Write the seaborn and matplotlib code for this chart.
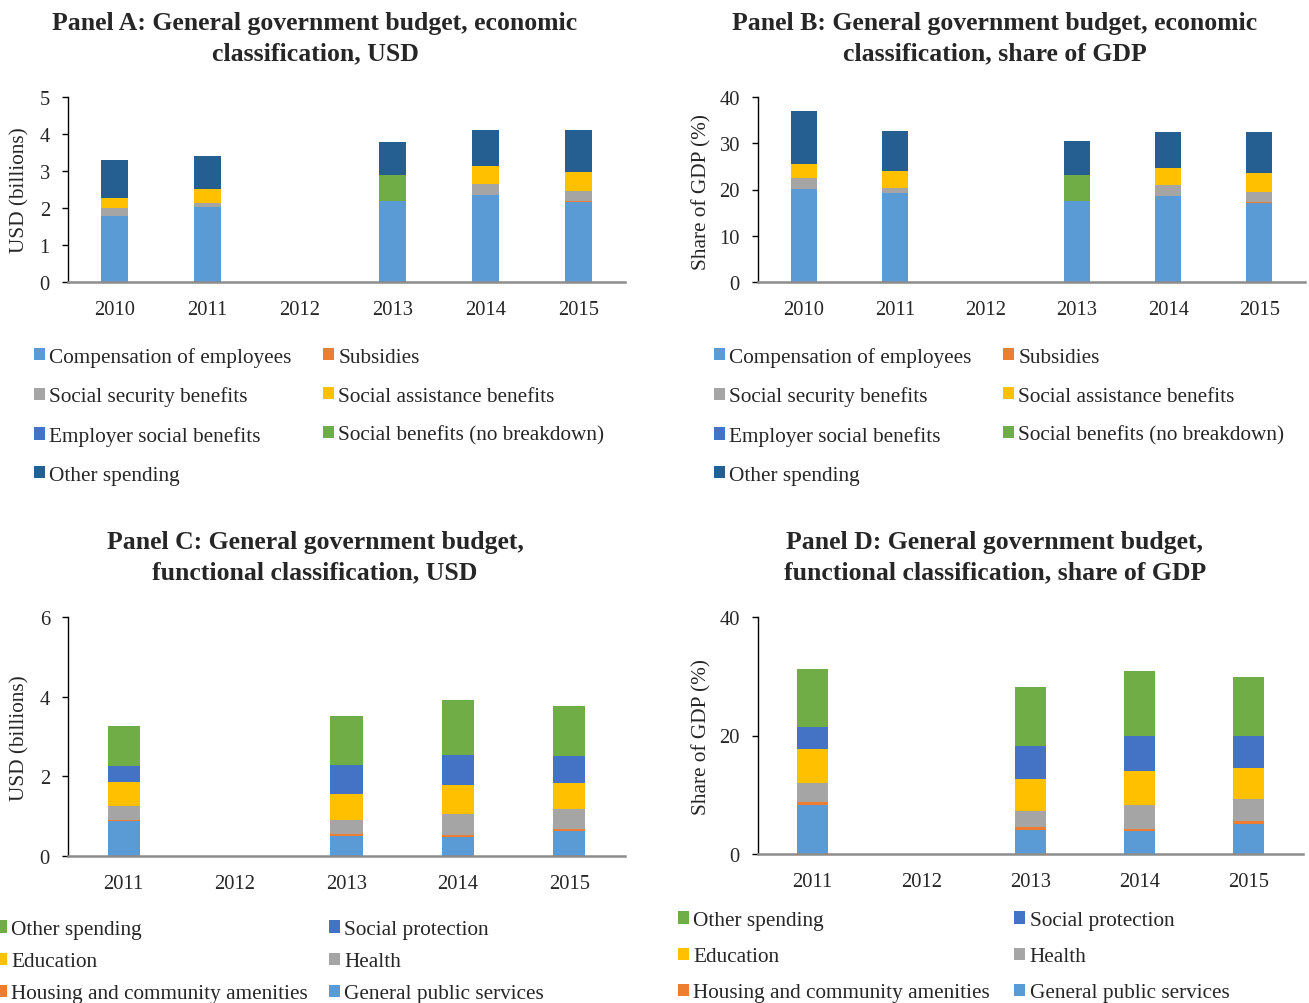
import numpy as np
import matplotlib
matplotlib.use("Agg")
import matplotlib.pyplot as plt
from matplotlib.patches import Patch
import seaborn as sns

# ---------------- data ----------------
years_ab = ["2010", "2011", "2012", "2013", "2014", "2015"]
years_cd = ["2011", "2012", "2013", "2014", "2015"]

# Panel A (USD billions)
a_comp      = [1.79, 2.03, 0, 2.20, 2.36, 2.17]
a_subsidies = [0.00, 0.00, 0, 0.00, 0.00, 0.01]
a_socsec    = [0.22, 0.11, 0, 0.00, 0.30, 0.29]
a_socassist = [0.27, 0.37, 0, 0.00, 0.48, 0.51]
a_employer  = [0.00, 0.00, 0, 0.00, 0.00, 0.00]
a_socben    = [0.00, 0.00, 0, 0.68, 0.00, 0.00]
a_other     = [1.01, 0.89, 0, 0.91, 0.96, 1.12]

# Panel B (% of GDP)
b_comp      = [20.2, 19.3, 0, 17.6, 18.7, 17.0]
b_subsidies = [0.0, 0.0, 0, 0.0, 0.0, 0.2]
b_socsec    = [2.3, 1.1, 0, 0.0, 2.2, 2.3]
b_socassist = [3.1, 3.7, 0, 0.0, 3.8, 4.0]
b_employer  = [0.0, 0.0, 0, 0.0, 0.0, 0.0]
b_socben    = [0.0, 0.0, 0, 5.6, 0.0, 0.0]
b_other     = [11.3, 8.5, 0, 7.2, 7.7, 8.9]

# Panel C (USD billions)
c_gps       = [0.87, 0, 0.49, 0.48, 0.62]
c_housing   = [0.04, 0, 0.06, 0.05, 0.07]
c_health    = [0.34, 0, 0.35, 0.52, 0.49]
c_education = [0.61, 0, 0.66, 0.72, 0.66]
c_socprot   = [0.40, 0, 0.72, 0.77, 0.68]
c_other     = [1.01, 0, 1.23, 1.38, 1.25]

# Panel D (% of GDP)
d_gps       = [8.3, 0, 4.1, 3.95, 5.0]
d_housing   = [0.4, 0, 0.4, 0.3, 0.5]
d_health    = [3.2, 0, 2.7, 3.95, 3.8]
d_education = [5.8, 0, 5.4, 5.75, 5.2]
d_socprot   = [3.8, 0, 5.7, 6.0, 5.4]
d_other     = [9.8, 0, 9.9, 10.9, 9.9]

econ_labels = ["Compensation of employees", "Subsidies", "Social security benefits",
               "Social assistance benefits", "Employer social benefits",
               "Social benefits (no breakdown)", "Other spending"]
func_labels = ["General public services", "Housing and community amenities", "Health",
               "Education", "Social protection", "Other spending"]

# ---------------- style ----------------
sns.set_style("white")
plt.rcParams["font.family"] = ["Liberation Serif", "DejaVu Serif"]

C_LBLUE = "#5B9BD5"
C_ORANGE = "#ED7D31"
C_GRAY = "#A5A5A5"
C_GOLD = "#FFC000"
C_BLUE = "#4472C4"
C_GREEN = "#70AD47"
C_DBLUE = "#255E91"

econ_colors = [C_LBLUE, C_ORANGE, C_GRAY, C_GOLD, C_BLUE, C_GREEN, C_DBLUE]
func_colors = [C_LBLUE, C_ORANGE, C_GRAY, C_GOLD, C_BLUE, C_GREEN]

W, H = 1309, 1004
fig = plt.figure(figsize=(W / 100, H / 100), dpi=100)


def fx(px):
    return px / W


def fy(py):
    return 1 - py / H


def add_ax(left, top, right, bottom):
    return fig.add_axes([fx(left), fy(bottom), (right - left) / W, (bottom - top) / H])


TICK_FS = 14.8
LEG_FS = 15.3
YLAB_FS = 15.3
TITLE_FS = 18.5
TITLE_LS = 1.40


def stacked(ax, years, series, colors, width, ymax, yticks):
    cums = np.cumsum(np.array(series, dtype=float), axis=0)
    for cum, col in reversed(list(zip(cums, colors))):
        sns.barplot(x=years, y=cum, order=years, color=col, width=width,
                    saturation=1, linewidth=0, errorbar=None, ax=ax)
    ax.set_ylim(0, ymax)
    ax.set_xlim(-0.5, len(years) - 0.5)
    ax.set_yticks(yticks)
    ax.set_yticklabels([str(t) for t in yticks])
    ax.set_xlabel("")
    ax.set_ylabel("")
    for s in ["top", "right"]:
        ax.spines[s].set_visible(False)
    ax.spines["left"].set_color("#000000")
    ax.spines["left"].set_linewidth(1.0)
    ax.spines["bottom"].set_color("#8C8C8C")
    ax.spines["bottom"].set_linewidth(1.8)
    ax.tick_params(axis="y", direction="out", length=4, width=1, color="#000000",
                   labelsize=TICK_FS, pad=9, left=True)
    ax.tick_params(axis="x", length=0, labelsize=TICK_FS, pad=13)
    ax.grid(False)


def legend(handles_order, colors, labels, x, y, colsp, labsp):
    hs = [Patch(facecolor=colors[i], edgecolor="none") for i in handles_order]
    ls = [labels[i] for i in handles_order]
    fig.legend(hs, ls, loc="upper left", bbox_to_anchor=(fx(x), fy(y)), ncol=2,
               frameon=False, fontsize=LEG_FS, handlelength=0.5, handleheight=0.5,
               handletextpad=0.22, columnspacing=colsp, labelspacing=labsp,
               borderpad=0, borderaxespad=0)


# Panel A
axA = add_ax(68, 98, 625, 283)
stacked(axA, years_ab, [a_comp, a_subsidies, a_socsec, a_socassist, a_employer, a_socben, a_other],
        econ_colors, 0.29, 5, [0, 1, 2, 3, 4, 5])
fig.text(fx(315), fy(38.5), "Panel A: General government budget, economic\nclassification, USD",
         ha="center", va="center", fontsize=TITLE_FS, fontweight="bold", linespacing=TITLE_LS)
fig.text(fx(20), fy(190), "USD (billions)", rotation=90, ha="center", va="center", fontsize=YLAB_FS)
legend([0, 2, 4, 6, 1, 3, 5], econ_colors, econ_labels, 34, 348, 1.48, 0.925)

# Panel B
axB = add_ax(758, 98, 1305, 283)
stacked(axB, years_ab, [b_comp, b_subsidies, b_socsec, b_socassist, b_employer, b_socben, b_other],
        econ_colors, 0.286, 40, [0, 10, 20, 30, 40])
fig.text(fx(995), fy(38.5), "Panel B: General government budget, economic\nclassification, share of GDP",
         ha="center", va="center", fontsize=TITLE_FS, fontweight="bold", linespacing=TITLE_LS)
fig.text(fx(702), fy(192), "Share of GDP (%)", rotation=90, ha="center", va="center", fontsize=YLAB_FS)
legend([0, 2, 4, 6, 1, 3, 5], econ_colors, econ_labels, 714, 348, 1.48, 0.925)

# Panel C
axC = add_ax(68, 618, 625, 857)
stacked(axC, years_cd, [c_gps, c_housing, c_health, c_education, c_socprot, c_other],
        func_colors, 0.29, 6, [0, 2, 4, 6])
fig.text(fx(315), fy(558), "Panel C: General government budget,\nfunctional classification, USD",
         ha="center", va="center", fontsize=TITLE_FS, fontweight="bold", linespacing=TITLE_LS)
fig.text(fx(20), fy(738), "USD (billions)", rotation=90, ha="center", va="center", fontsize=YLAB_FS)
legend([5, 3, 1, 4, 2, 0], func_colors, func_labels, -4, 921, 0.98, 0.62)

# Panel D
axD = add_ax(758, 618, 1303, 855)
stacked(axD, years_cd, [d_gps, d_housing, d_health, d_education, d_socprot, d_other],
        func_colors, 0.29, 40, [0, 20, 40])
fig.text(fx(995), fy(558), "Panel D: General government budget,\nfunctional classification, share of GDP",
         ha="center", va="center", fontsize=TITLE_FS, fontweight="bold", linespacing=TITLE_LS)
fig.text(fx(702), fy(737), "Share of GDP (%)", rotation=90, ha="center", va="center", fontsize=YLAB_FS)
legend([5, 3, 1, 4, 2, 0], func_colors, func_labels, 678, 912, 1.14, 0.805)

fig.savefig("out.png", dpi=100)
